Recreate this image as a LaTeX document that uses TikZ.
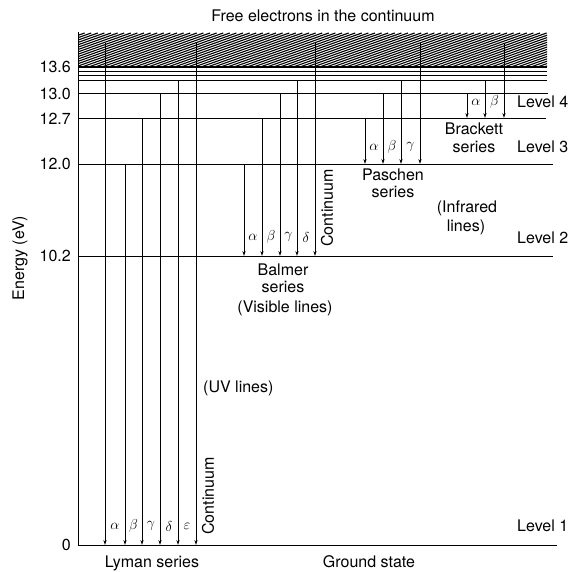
\documentclass[tikz,border=0pt]{standalone}
\usepackage{fontspec}
\setmainfont{TeX Gyre Heros}
\usetikzlibrary{arrows.meta}
\begin{document}
\begin{tikzpicture}[x=1pt,y=-1pt,
  lvl/.style={line width=0.8pt},
  arr/.style={line width=0.8pt,-{Stealth[length=5pt,width=3.2pt]}},
  lab/.style={font=\fontsize{16}{18}\selectfont, inner sep=0pt},
  gk/.style={font=\fontsize{15.5}{17}\selectfont, inner sep=0pt},
]
\useasboundingbox[fill=white] (0,0) rectangle (572,571);
% hatched continuum
\begin{scope}
  \clip (78,32) rectangle (547,67);
  \foreach \i in {0,...,90} { \draw[line width=1.1pt] ({78-95+\i*6.6},67) -- ++(95,-34); }
\end{scope}
\draw[line width=1.3pt] (78,67) -- (547,67);
% energy axis
\draw[lvl] (78,32) -- (78,545);
% levels
\foreach \y/\xe in {71/547, 75/547, 80/547, 93/548, 118/546, 164/553, 256/553, 545/557}
  \draw[lvl] (78,\y) -- (\xe,\y);
% Lyman
\foreach \x/\y in {105/43,125/164,142/118,160/93,178/80,196/43}
  \draw[arr] (\x,\y) -- (\x,545);
% Balmer
\foreach \x/\y in {244/164,262/118,280/93,297/80,315/43}
  \draw[arr] (\x,\y) -- (\x,256);
% Paschen
\foreach \x/\y in {365/118,383/93,401/80,420/43}
  \draw[arr] (\x,\y) -- (\x,164);
% Brackett
\foreach \x/\y in {467/93,485/80,504/43}
  \draw[arr] (\x,\y) -- (\x,118);
% titles and axis labels
\node[lab] (free) at (323,16) {Free electrons in the continuum};
\node[lab,anchor=east] (e136) at (71,67) {13.6};
\node[lab,anchor=east] (e130) at (71,94) {13.0};
\node[lab,anchor=east] (e127) at (71,119) {12.7};
\node[lab,anchor=east] (e120) at (71,164) {12.0};
\node[lab,anchor=east] (e102) at (71,256) {10.2};
\node[lab,anchor=east] (e0) at (71,545) {0};
\node[lab,rotate=90] (energy) at (20,258) {Energy (eV)};
% Lyman labels
\node[gk] (la) at (115,526) {$\alpha$};
\node[gk] (lb) at (133.5,526) {$\beta$};
\node[gk] (lg) at (151,526) {$\gamma$};
\node[gk] (ld) at (169,526) {$\delta$};
\node[gk] (le) at (187,526) {$\varepsilon$};
\node[lab,rotate=90] (lcont) at (208,496) {Continuum};
\node[lab] (lyman) at (152,563) {Lyman series};
\node[lab,anchor=west] (uv) at (203,388) {(UV lines)};
% Balmer labels
\node[gk] (ba) at (253,237) {$\alpha$};
\node[gk] (bb) at (271,237) {$\beta$};
\node[gk] (bg) at (288.5,237) {$\gamma$};
\node[gk] (bd) at (306,237) {$\delta$};
\node[lab,rotate=90] (bcont) at (327,208) {Continuum};
\node[lab] (balmer) at (283,270) {Balmer};
\node[lab] (bser) at (283,287) {series};
\node[lab] (vis) at (285,308) {(Visible lines)};
% Paschen labels
\node[gk] (pa) at (374,147) {$\alpha$};
\node[gk] (pb) at (392,147) {$\beta$};
\node[gk] (pg) at (410.5,147) {$\gamma$};
\node[lab] (paschen) at (393,175) {Paschen};
\node[lab] (pser) at (393,192) {series};
\node[lab] (ir1) at (467,208) {(Infrared};
\node[lab] (ir2) at (466,227) {lines)};
% Brackett labels
\node[gk] (ka) at (476,102) {$\alpha$};
\node[gk] (kb) at (494.5,102) {$\beta$};
\node[lab] (brackett) at (474,129) {Brackett};
\node[lab] (kser) at (474,147) {series};
% level labels
\node[lab,anchor=west] (l4) at (517,102) {Level 4};
\node[lab,anchor=west] (l3) at (517,147) {Level 3};
\node[lab,anchor=west] (l2) at (517,238) {Level 2};
\node[lab,anchor=west] (l1) at (517,526) {Level 1};
\node[lab] (ground) at (369,562) {Ground state};
\end{tikzpicture}
\end{document}
